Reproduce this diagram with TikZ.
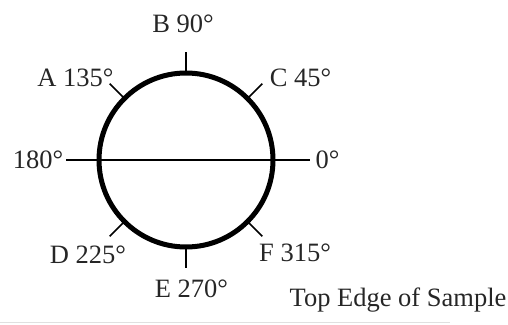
\documentclass[tikz,border=0pt]{standalone}
\usepackage{fontspec}
\setmainfont{Liberation Serif}
\usetikzlibrary{calc}
\begin{document}
\begin{tikzpicture}[x=1pt,y=-1pt,
  lbl/.style={anchor=base,inner sep=0pt,font=\fontsize{26.5}{30}\selectfont,text=black!85},
  tick/.style={line width=1.5pt,black},
  ring/.style={line width=5pt,black}]
\useasboundingbox (0,0) rectangle (508,324);
\coordinate (O) at (186,160);
\draw[ring] (O) circle (87);
% labels
\node[lbl] (B) at (183,32.5) {B 90°};
\node[lbl] (A) at (75.5,86) {A 135°};
\node[lbl] (C) at (300.5,86) {C 45°};
\node[lbl] (L180) at (38,168) {180°};
\node[lbl] (L0) at (327.5,168) {0°};
\node[lbl] (D) at (88,263) {D 225°};
\node[lbl] (F) at (295,261) {F 315°};
\node[lbl] (E) at (191.5,297.5) {E 270°};
\node[lbl] (T) at (398,306) {Top Edge of Sample};
% horizontal line
\coordinate (hl) at (66,160);
\coordinate (hr) at (310,160);
\draw[tick] (hl) -- (hr);
% ticks
\foreach \a in {45,90,135,225,270,315}{
  \draw[tick] ($(O)+(\a:87)$) -- ($(O)+(\a:108)$);
}
% bottom gray line
\coordinate (g1) at (0,322.5);
\coordinate (g2) at (450,322.5);
\draw[line width=1.5pt,black!12] (g1) -- (g2);
\end{tikzpicture}
\end{document}
